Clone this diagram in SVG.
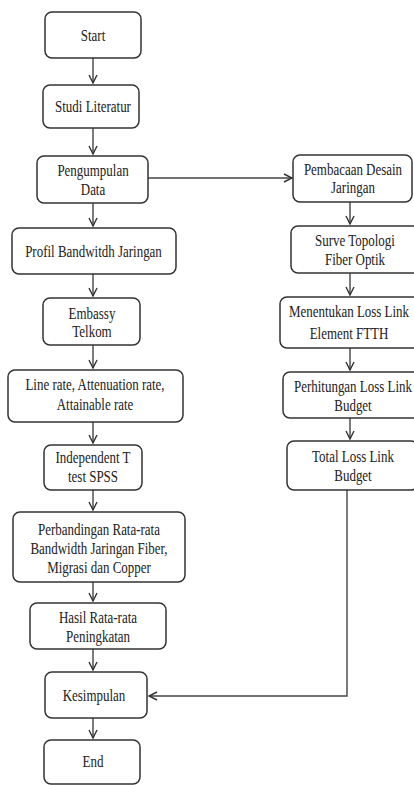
<svg xmlns="http://www.w3.org/2000/svg" width="414" height="785" viewBox="0 0 414 785">
<style>
.box{fill:#fff;stroke:#333;stroke-width:1.5}
.t{font-family:"Liberation Serif","Times New Roman",serif;font-size:16px;fill:#222;text-anchor:middle}
.c{fill:none;stroke:#444;stroke-width:1.4}
</style>
<defs>
<marker id="ah" markerUnits="userSpaceOnUse" markerWidth="12" markerHeight="12" refX="9" refY="5" orient="auto">
<path d="M1,1 L9,5 L1,9" fill="none" stroke="#333" stroke-width="1.4"/>
</marker>
</defs>
<rect width="414" height="785" fill="#fff"/>
<g id="connectors">
<line class="c" x1="93" y1="58" x2="93" y2="83" marker-end="url(#ah)"/>
<line class="c" x1="93" y1="128" x2="93" y2="154" marker-end="url(#ah)"/>
<line class="c" x1="93" y1="203" x2="93" y2="226" marker-end="url(#ah)"/>
<line class="c" x1="93" y1="274" x2="93" y2="296" marker-end="url(#ah)"/>
<line class="c" x1="93" y1="345" x2="93" y2="368" marker-end="url(#ah)"/>
<line class="c" x1="93" y1="422" x2="93" y2="443" marker-end="url(#ah)"/>
<line class="c" x1="93" y1="490" x2="93" y2="510" marker-end="url(#ah)"/>
<line class="c" x1="93" y1="582" x2="93" y2="601" marker-end="url(#ah)"/>
<line class="c" x1="93" y1="649" x2="93" y2="670" marker-end="url(#ah)"/>
<line class="c" x1="93" y1="718" x2="93" y2="738" marker-end="url(#ah)"/>
<line class="c" x1="148" y1="178" x2="292" y2="178" marker-end="url(#ah)"/>
<line class="c" x1="350" y1="202" x2="350" y2="224" marker-end="url(#ah)"/>
<line class="c" x1="350" y1="273" x2="350" y2="295" marker-end="url(#ah)"/>
<line class="c" x1="350" y1="348" x2="350" y2="370" marker-end="url(#ah)"/>
<line class="c" x1="350" y1="418" x2="350" y2="439" marker-end="url(#ah)"/>
<polyline class="c" points="347,490 347,696 149,696" marker-end="url(#ah)"/>
</g>
<g id="start"><rect class="box" x="45" y="12" width="96" height="46" rx="7"/>
<text class="t" transform="translate(93,0) scale(0.81,1)" y="41">Start</text></g>
<g id="studi"><rect class="box" x="43" y="85" width="96" height="43" rx="7"/>
<text class="t" transform="translate(93,0) scale(0.81,1)" y="112">Studi Literatur</text></g>
<g id="pengumpulan"><rect class="box" x="37" y="156" width="111" height="47" rx="7"/>
<text class="t" transform="translate(93,0) scale(0.81,1)" y="176.5">Pengumpulan</text>
<text class="t" transform="translate(93,0) scale(0.81,1)" y="195">Data</text></g>
<g id="profil"><rect class="box" x="12" y="228" width="164" height="46" rx="7"/>
<text class="t" transform="translate(93.5,0) scale(0.81,1)" y="257">Profil Bandwitdh Jaringan</text></g>
<g id="embassy"><rect class="box" x="43" y="298" width="97" height="47" rx="7"/>
<text class="t" transform="translate(92,0) scale(0.81,1)" y="319">Embassy</text>
<text class="t" transform="translate(92,0) scale(0.81,1)" y="337">Telkom</text></g>
<g id="linerate"><rect class="box" x="8" y="370" width="175" height="52" rx="7"/>
<text class="t" transform="translate(95,0) scale(0.81,1)" y="390">Line rate, Attenuation rate,</text>
<text class="t" transform="translate(95,0) scale(0.81,1)" y="410">Attainable rate</text></g>
<g id="ttest"><rect class="box" x="44" y="445" width="98" height="45" rx="7"/>
<text class="t" transform="translate(93,0) scale(0.81,1)" y="463">Independent T</text>
<text class="t" transform="translate(93,0) scale(0.81,1)" y="482">test SPSS</text></g>
<g id="perbandingan"><rect class="box" x="13" y="512" width="172" height="70" rx="7"/>
<text class="t" transform="translate(99,0) scale(0.81,1)" y="535">Perbandingan Rata-rata</text>
<text class="t" transform="translate(99,0) scale(0.81,1)" y="554">Bandwidth Jaringan Fiber,</text>
<text class="t" transform="translate(99,0) scale(0.81,1)" y="573">Migrasi dan Copper</text></g>
<g id="hasil"><rect class="box" x="30" y="603" width="136" height="46" rx="7"/>
<text class="t" transform="translate(98,0) scale(0.81,1)" y="623">Hasil Rata-rata</text>
<text class="t" transform="translate(98,0) scale(0.81,1)" y="642">Peningkatan</text></g>
<g id="kesimpulan"><rect class="box" x="45" y="672" width="102" height="46" rx="7"/>
<text class="t" transform="translate(94,0) scale(0.81,1)" y="701">Kesimpulan</text></g>
<g id="end"><rect class="box" x="44" y="740" width="96" height="44" rx="7"/>
<text class="t" transform="translate(93,0) scale(0.81,1)" y="767">End</text></g>
<g id="pembacaan"><rect class="box" x="293" y="155" width="119" height="47" rx="7"/>
<text class="t" transform="translate(353,0) scale(0.81,1)" y="175">Pembacaan Desain</text>
<text class="t" transform="translate(353,0) scale(0.81,1)" y="193">Jaringan</text></g>
<g id="surve"><rect class="box" x="291" y="226" width="130" height="47" rx="7"/>
<text class="t" transform="translate(355,0) scale(0.81,1)" y="246.5">Surve Topologi</text>
<text class="t" transform="translate(355,0) scale(0.81,1)" y="265">Fiber Optik</text></g>
<g id="menentukan"><rect class="box" x="280" y="297" width="144" height="51" rx="7"/>
<text class="t" transform="translate(349,0) scale(0.81,1)" y="317">Menentukan Loss Link</text>
<text class="t" transform="translate(349,0) scale(0.81,1)" y="339">Element FTTH</text></g>
<g id="perhitungan"><rect class="box" x="283" y="372" width="139" height="46" rx="7"/>
<text class="t" transform="translate(353,0) scale(0.81,1)" y="392">Perhitungan Loss Link</text>
<text class="t" transform="translate(353,0) scale(0.81,1)" y="411">Budget</text></g>
<g id="total"><rect class="box" x="287" y="441" width="131" height="49" rx="7"/>
<text class="t" transform="translate(353,0) scale(0.81,1)" y="462">Total Loss Link</text>
<text class="t" transform="translate(353,0) scale(0.81,1)" y="481">Budget</text></g>
</svg>
